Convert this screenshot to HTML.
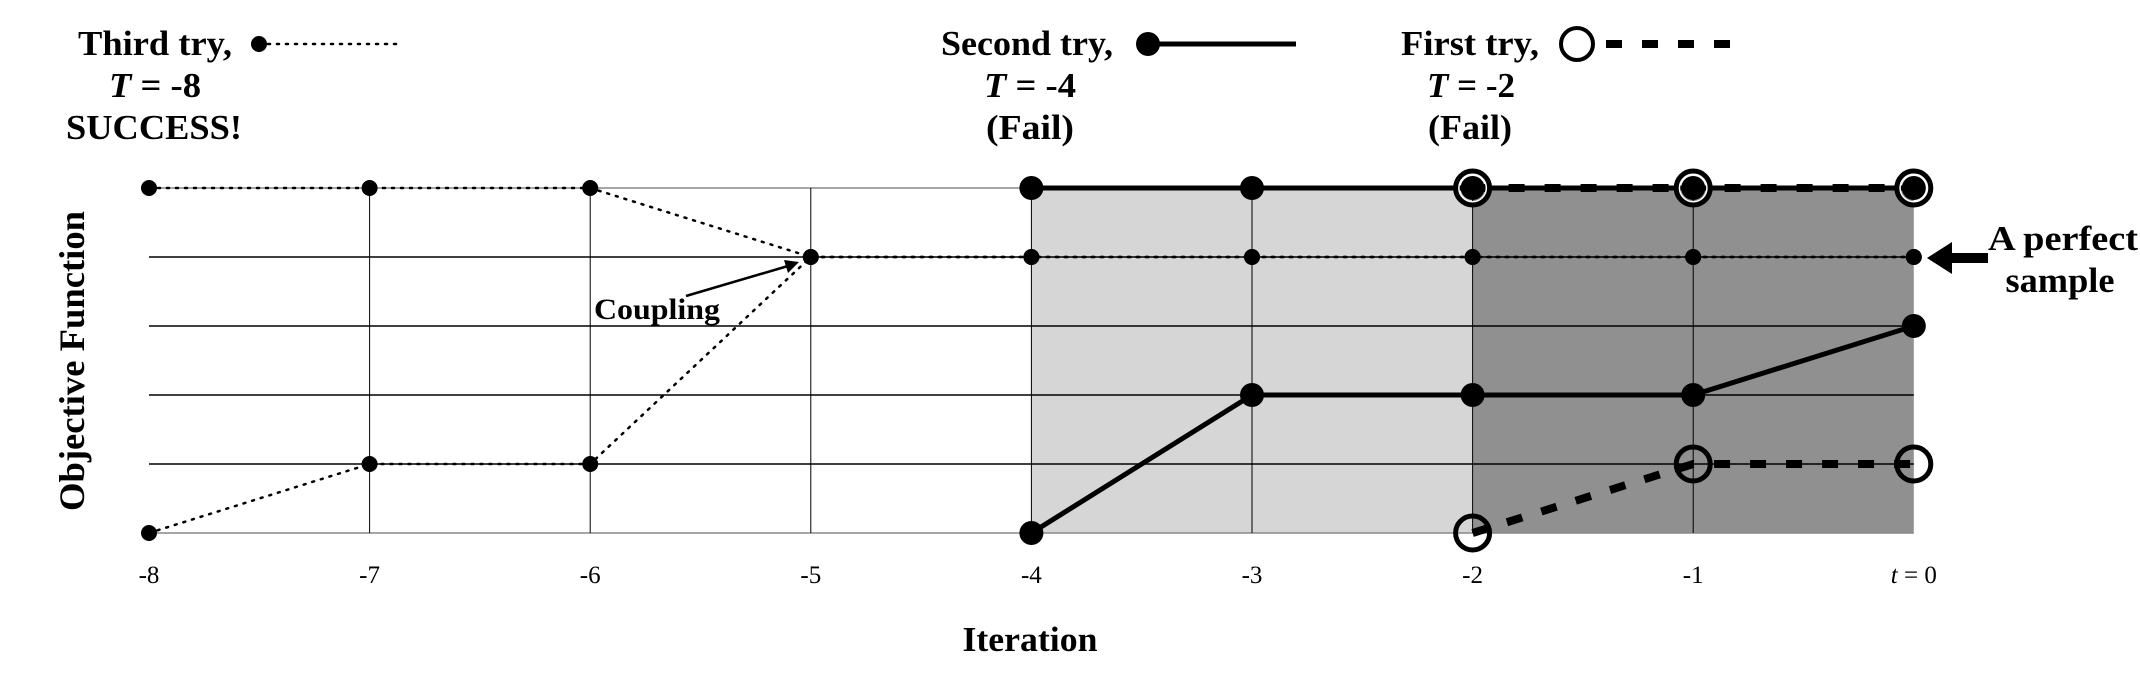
<!DOCTYPE html>
<html><head><meta charset="utf-8"><style>
html,body{margin:0;padding:0;background:#fff;}
svg{display:block;}
text{font-family:"Liberation Serif",serif;}
</style></head><body>
<svg id="chart" width="2140" height="674" viewBox="0 0 2140 674" xmlns="http://www.w3.org/2000/svg">
<g id="bg"></g>
<g id="grid"></g>
<g id="series"></g>
<g id="labels"></g>
</svg>
<script>
const iterations = [-8,-7,-6,-5,-4,-3,-2,-1,0];
const tickLabels = ["-8","-7","-6","-5","-4","-3","-2","-1","t = 0"];
const levels = [0,1,2,3,4,5];
// third try (T=-8): two trajectories
const thirdX = [-8,-7,-6,-5,-4,-3,-2,-1,0];
const thirdUpper = [5,5,5,4,4,4,4,4,4];
const thirdLower = [0,1,1,4,4,4,4,4,4];
// second try (T=-4)
const secondX = [-4,-3,-2,-1,0];
const secondUpper = [5,5,5,5,5];
const secondLower = [0,2,2,2,3];
// first try (T=-2)
const firstX = [-2,-1,0];
const firstUpper = [5,5,5];
const firstLower = [0,1,1];

const NS="http://www.w3.org/2000/svg";
const X0=149, STEP=220.6, YB=533, YSTEP=69;
const xs=v=>X0+(v+8)*STEP;
const ys=v=>YB-v*YSTEP;
function mk(tag,attrs,parent){const e=document.createElementNS(NS,tag);for(const k in attrs)e.setAttribute(k,attrs[k]);parent.appendChild(e);return e;}
const bg=document.getElementById('bg'),grid=document.getElementById('grid'),ser=document.getElementById('series'),lab=document.getElementById('labels');

let r1=mk('rect',{x:xs(-4),y:ys(5),width:xs(-2)-xs(-4),height:ys(0)-ys(5),fill:'#d6d6d6'},bg);


let r2=mk('rect',{x:xs(-2),y:ys(5),width:xs(0)-xs(-2),height:ys(0)-ys(5),fill:'#909090'},bg);



levels.forEach(l=>{
  let g=mk('line',{x1:xs(-8),x2:xs(0),y1:ys(l),y2:ys(l),stroke:(l===0||l===5)?'#888':'#000','stroke-width':1.5},grid);
  
  
});
iterations.forEach((it,i)=>{
  if(it!==0&&it!==-8){
    let g=mk('line',{x1:xs(it),x2:xs(it),y1:ys(5),y2:ys(0),stroke:'#000','stroke-width':1},grid);
    
    
  }
  let t=mk('text',{x:xs(it),y:583,'font-size':25,'text-anchor':'middle'},lab);
  if(tickLabels[i].startsWith('t')){t.innerHTML='<tspan font-style="italic">t</tspan> = 0';}else t.textContent=tickLabels[i];
  
  
});

function pts(xa,ya){return xa.map((x,i)=>xs(x)+','+ys(ya[i])).join(' ');}
function line(xa,ya,style,name){
  const a={points:pts(xa,ya),fill:'none',stroke:'#000'};
  if(style==='dot'){a['stroke-width']=2.5;a['stroke-dasharray']='2 7';a['stroke-linecap']='round';}
  if(style==='solid'){a['stroke-width']=5;}
  if(style==='dash'){a['stroke-width']=8;a['stroke-dasharray']='16 20';}
  let p=mk('polyline',a,ser);
  
  
}
line(secondX,secondUpper,'solid','second-try-upper-line');
line(secondX,secondLower,'solid','second-try-lower-line');
line(firstX,firstUpper,'dash','first-try-upper-line');
line(firstX,firstLower,'dash','first-try-lower-line');
line(thirdX,thirdUpper,'dot','third-try-upper-line');
line(thirdX,thirdLower,'dot','third-try-lower-line');

function dots(xa,ya,r,name){xa.forEach((x,i)=>{let c=mk('circle',{cx:xs(x),cy:ys(ya[i]),r:r,fill:'#000'},ser);});}
function rings(xa,ya,name,halo){xa.forEach((x,i)=>{if(halo){let c=mk('circle',{cx:xs(x),cy:ys(ya[i]),r:15,fill:'none',stroke:'#fff','stroke-width':4},ser);}let d=mk('circle',{cx:xs(x),cy:ys(ya[i]),r:17,fill:'none',stroke:'#000','stroke-width':5},ser);});}
dots(thirdX,thirdUpper,8,'third-try-point');
dots(thirdX,thirdLower,8,'third-try-point');
dots(secondX,secondUpper,12,'second-try-point');
dots(secondX,secondLower,12,'second-try-point');
rings(firstX,firstUpper,'first-try-point',true);
rings(firstX,firstLower,'first-try-point',false);
</script>
<svg style="position:absolute;left:0;top:0" width="2140" height="674" xmlns="http://www.w3.org/2000/svg">
<g font-weight="bold" font-size="35" text-anchor="middle" font-family="Liberation Serif, serif" lengthAdjust="spacingAndGlyphs">
<text x="155" y="55" textLength="154" lengthAdjust="spacingAndGlyphs">Third try,</text>
<text x="155" y="97" textLength="92" lengthAdjust="spacingAndGlyphs"><tspan font-style="italic">T</tspan> = -8</text>
<text x="154" y="139" textLength="176" lengthAdjust="spacingAndGlyphs">SUCCESS!</text>
<text x="1027" y="55" textLength="172" lengthAdjust="spacingAndGlyphs">Second try,</text>
<text x="1030" y="97" textLength="92" lengthAdjust="spacingAndGlyphs"><tspan font-style="italic">T</tspan> = -4</text>
<text x="1030" y="139" textLength="88" lengthAdjust="spacingAndGlyphs">(Fail)</text>
<text x="1470" y="55" textLength="138" lengthAdjust="spacingAndGlyphs">First try,</text>
<text x="1471" y="97" textLength="88" lengthAdjust="spacingAndGlyphs"><tspan font-style="italic">T</tspan> = -2</text>
<text x="1470" y="139" textLength="84" lengthAdjust="spacingAndGlyphs">(Fail)</text>
<text x="2063" y="250" textLength="150" lengthAdjust="spacingAndGlyphs">A perfect</text>
<text x="2060" y="292" textLength="109" lengthAdjust="spacingAndGlyphs">sample</text>
<text x="1030" y="651" textLength="135" lengthAdjust="spacingAndGlyphs">Iteration</text>
<text transform="translate(84,361) rotate(-90)" x="0" y="0" textLength="300" lengthAdjust="spacingAndGlyphs" font-size="36">Objective Function</text>
<text x="657" y="319" font-size="30" textLength="126" lengthAdjust="spacingAndGlyphs">Coupling</text>
</g>
<circle cx="259" cy="44" r="8"/>
<line x1="259" y1="44" x2="396" y2="44" stroke="#000" stroke-width="2.5" stroke-dasharray="2 7" stroke-linecap="round"/>
<circle cx="1148" cy="44" r="12"/>
<line x1="1148" y1="44" x2="1296" y2="44" stroke="#000" stroke-width="5"/>
<circle cx="1577" cy="44" r="16" fill="none" stroke="#000" stroke-width="4"/>
<line x1="1606" y1="44" x2="1735" y2="44" stroke="#000" stroke-width="8" stroke-dasharray="16 20"/>
<line x1="686" y1="296" x2="788" y2="266" stroke="#000" stroke-width="2.5"/>
<polygon points="799,262 784,260 788,273" fill="#000"/>
<rect x="1948" y="253" width="40" height="10" fill="#000"/>
<polygon points="1927,258 1952,242 1952,274" fill="#000"/>
</svg>
</body></html>
